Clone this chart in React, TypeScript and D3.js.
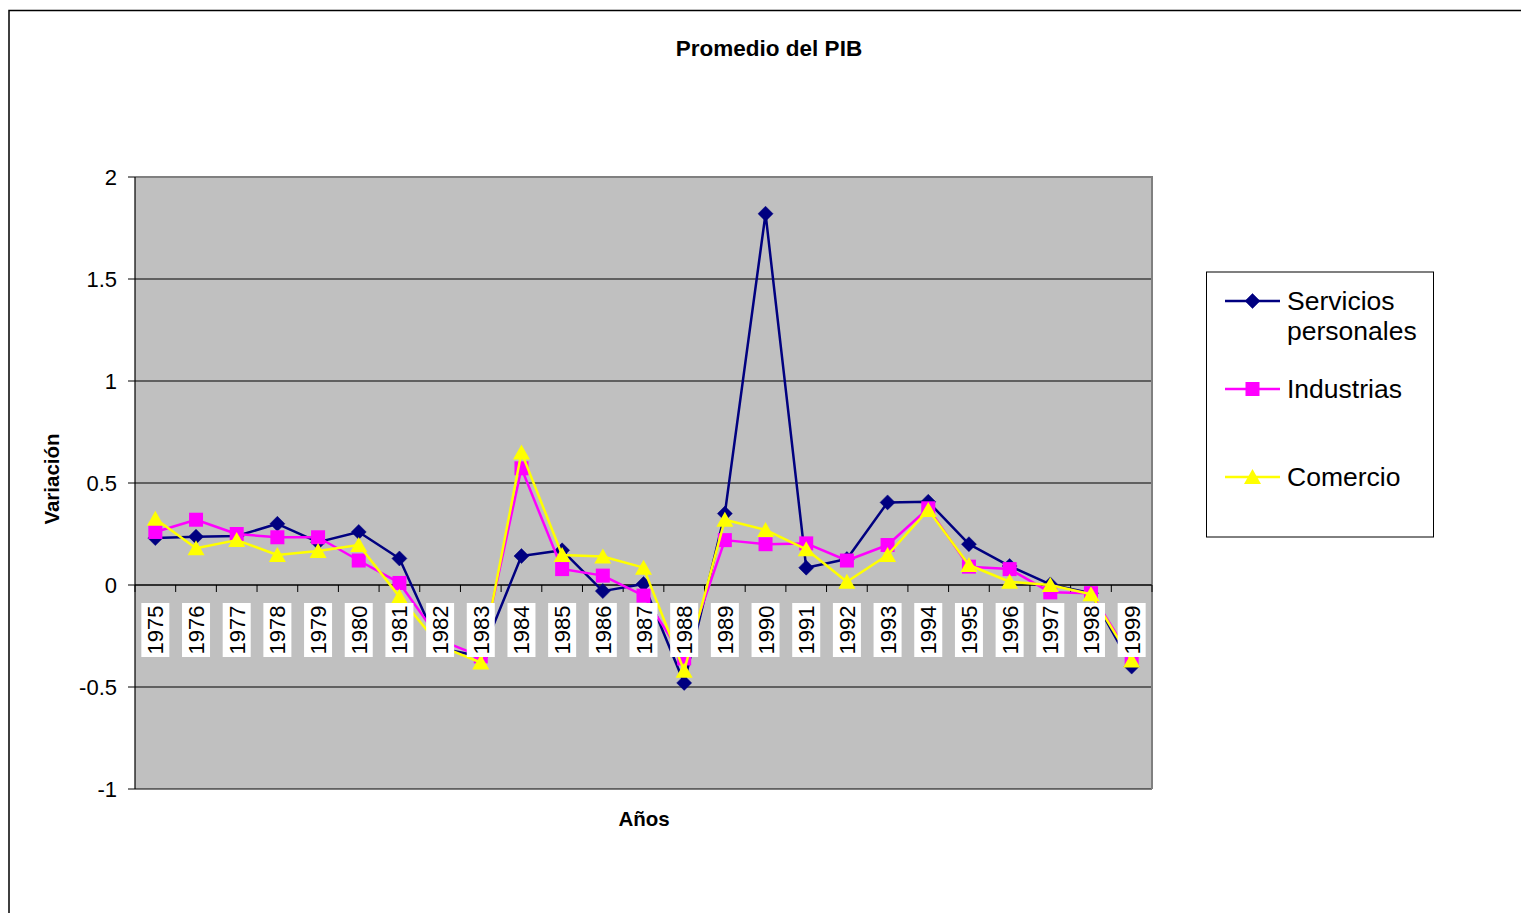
import React from "react";
import * as d3 from "d3";

const years = ["1975","1976","1977","1978","1979","1980","1981","1982","1983","1984","1985","1986","1987","1988","1989","1990","1991","1992","1993","1994","1995","1996","1997","1998","1999"];
const servicios = [0.23,0.237,0.24,0.30,0.21,0.26,0.13,-0.31,-0.35,0.142,0.17,-0.03,0.005,-0.48,0.35,1.82,0.085,0.127,0.405,0.408,0.20,0.093,0.003,-0.04,-0.40];
const industrias = [0.26,0.32,0.25,0.234,0.234,0.12,0.01,-0.27,-0.35,0.572,0.078,0.046,-0.052,-0.36,0.22,0.20,0.204,0.12,0.196,0.376,0.09,0.078,-0.036,-0.04,-0.36];
const comercio = [0.325,0.18,0.22,0.147,0.167,0.196,-0.057,-0.30,-0.38,0.65,0.147,0.14,0.085,-0.42,0.32,0.27,0.175,0.016,0.147,0.368,0.098,0.016,0.0,-0.045,-0.37];
const yTicks = [-1,-0.5,0,0.5,1,1.5,2];

const seriesList = [
  { name: ["Servicios","personales"], values: servicios, color: "#000080", marker: "diamond" },
  { name: ["Industrias"], values: industrias, color: "#FF00FF", marker: "square" },
  { name: ["Comercio"], values: comercio, color: "#FFFF00", marker: "triangle" },
];

const FONT = "'Liberation Sans', Arial, Helvetica, sans-serif";

function Marker({ type, x, y, color }: { type: string; x: number; y: number; color: string }) {
  if (type === "diamond") {
    const r = 7.5;
    return <path d={`M${x},${y - r}L${x + r},${y}L${x},${y + r}L${x - r},${y}Z`} fill={color} stroke={color} strokeWidth={0.5} />;
  }
  if (type === "square") {
    const r = 7;
    return <rect x={x - r} y={y - r} width={2 * r} height={2 * r} fill={color} />;
  }
  const w = 8.5;
  return <path d={`M${x},${y - 8}L${x + w},${y + 7}L${x - w},${y + 7}Z`} fill={color} />;
}

export default function App() {
  const left = 135, right = 1152, top = 177, bottom = 789;
  const x = d3.scaleBand<string>().domain(years).range([left, right]).padding(0);
  const bw = x.bandwidth();
  const cx = (yr: string) => (x(yr) as number) + bw / 2;
  const y = d3.scaleLinear().domain([-1, 2]).range([bottom, top]);
  const line = d3.line<number>().x((_, i) => cx(years[i])).y((v) => y(v));

  const legendRows = [301, 389, 477];

  return (
    <svg width={1521} height={913} style={{ position: "absolute", left: 0, top: 0, background: "#fff" }} fontFamily={FONT}>
      <rect x={9} y={10.5} width={1540} height={930} fill="#fff" stroke="#000" strokeWidth={1.5} />
      <text x={769} y={56} textAnchor="middle" fontSize={22.5} fontWeight="bold">Promedio del PIB</text>

      {/* plot area */}
      <rect x={left} y={top} width={right - left} height={bottom - top} fill="#C0C0C0" />
      {yTicks.map((t) => (
        <line key={"g" + t} x1={left} x2={right} y1={y(t)} y2={y(t)} stroke="#000" strokeWidth={1} />
      ))}
      <path d={`M${left},${top}L${right},${top}L${right},${bottom}`} fill="none" stroke="#808080" strokeWidth={2} />
      <line x1={left} x2={left} y1={top} y2={bottom} stroke="#000" strokeWidth={1.2} />
      {yTicks.map((t) => (
        <g key={"t" + t}>
          <line x1={128} x2={left} y1={y(t)} y2={y(t)} stroke="#000" strokeWidth={1} />
          <text x={117} y={y(t)} dy="0.35em" textAnchor="end" fontSize={22}>{t}</text>
        </g>
      ))}
      <line x1={left} x2={right} y1={y(0)} y2={y(0)} stroke="#000" strokeWidth={1.2} />
      {years.map((yr) => (
        <line key={"xt" + yr} x1={x(yr) as number} x2={x(yr) as number} y1={y(0)} y2={y(0) + 7} stroke="#000" strokeWidth={1} />
      ))}
      <line x1={right} x2={right} y1={y(0)} y2={y(0) + 7} stroke="#000" strokeWidth={1} />

      {/* series */}
      {seriesList.map((s) => (
        <g key={s.name[0]}>
          <path d={line(s.values) as string} fill="none" stroke={s.color} strokeWidth={2.5} strokeLinejoin="round" />
          {s.values.map((v, i) => (
            <Marker key={i} type={s.marker} x={cx(years[i])} y={y(v)} color={s.color} />
          ))}
        </g>
      ))}

      {/* category labels over the plot */}
      {years.map((yr) => (
        <g key={"l" + yr}>
          <rect x={cx(yr) - 14} y={603} width={28} height={54} fill="#fff" />
          <text transform={`translate(${cx(yr) + 8},630) rotate(-90)`} textAnchor="middle" fontSize={22}>{yr}</text>
        </g>
      ))}

      <text x={644} y={826} textAnchor="middle" fontSize={20.5} fontWeight="bold">Años</text>
      <text transform="translate(59,479) rotate(-90)" textAnchor="middle" fontSize={20.5} fontWeight="bold">Variación</text>

      {/* legend */}
      <rect x={1206.5} y={272} width={227} height={265} fill="#fff" stroke="#000" strokeWidth={1} />
      {seriesList.map((s, k) => (
        <g key={"lg" + k}>
          <line x1={1225} x2={1280} y1={legendRows[k]} y2={legendRows[k]} stroke={s.color} strokeWidth={2.5} />
          <Marker type={s.marker} x={1252.5} y={legendRows[k]} color={s.color} />
          {s.name.map((n, j) => (
            <text key={j} x={1287} y={legendRows[k] + 9 + j * 30} fontSize={26.5}>{n}</text>
          ))}
        </g>
      ))}
    </svg>
  );
}
